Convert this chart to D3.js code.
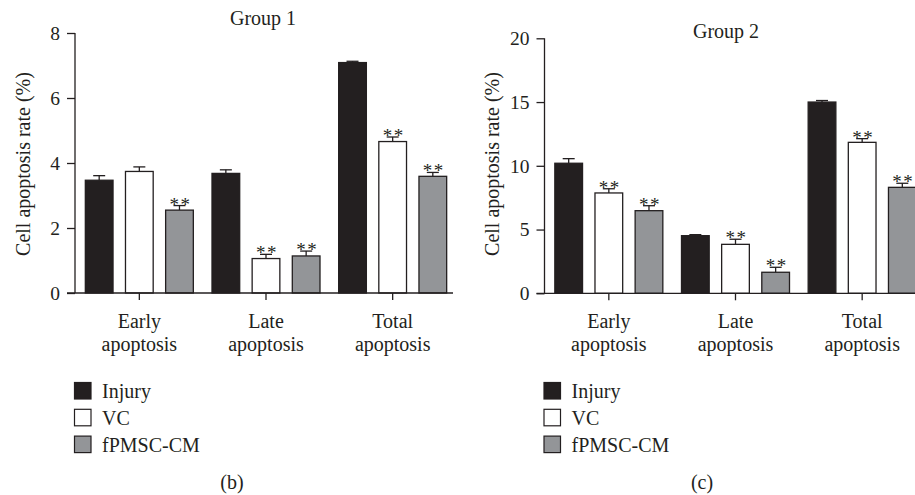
<!DOCTYPE html>
<html><head><meta charset="utf-8">
<script src="https://cdn.jsdelivr.net/npm/d3@7"></script>
<style>body{margin:0;background:#fff}svg text{font-family:"Liberation Serif","DejaVu Serif",serif;fill:#231f20}</style>
</head><body><svg id="c" width="915" height="495"></svg>
<script>
const categories = ["Early apoptosis", "Late apoptosis", "Total apoptosis"];
const seriesNames = ["Injury", "VC", "fPMSC-CM"];
const seriesColors = ["#231f20", "#ffffff", "#939598"];
// Group 1
const g1Injury = [3.47, 3.68, 7.09];
const g1VC = [3.74, 1.06, 4.66];
const g1CM = [2.55, 1.14, 3.59];
const g1InjuryErr = [0.14, 0.11, 0.04];
const g1VCErr = [0.14, 0.13, 0.14];
const g1CMErr = [0.14, 0.15, 0.12];
const g1Sig = [[false, false, false], [false, true, true], [true, true, true]]; // [series][category]
const g1Ticks = [0, 2, 4, 6, 8];
// Group 2
const g2Injury = [10.2, 4.52, 15.0];
const g2VC = [7.87, 3.84, 11.84];
const g2CM = [6.48, 1.65, 8.31];
const g2InjuryErr = [0.36, 0.08, 0.12];
const g2VCErr = [0.33, 0.4, 0.29];
const g2CMErr = [0.39, 0.39, 0.32];
const g2Sig = [[false, false, false], [true, true, true], [true, true, true]];
const g2Ticks = [0, 5, 10, 15, 20];

const svg = d3.select("#c");
const INK = "#231f20";

function panel(o) {
  const g = svg.append("g");
  const y = d3.scaleLinear().domain([0, o.max]).range([o.y0, o.yTop]);
  const x0 = d3.scaleBand().domain(categories).range([o.xAxis + 1, o.xAxis + 381]);
  const x1 = d3.scaleBand().domain(seriesNames).range([-54, 54]).paddingInner(0.31).paddingOuter(0);
  const vals = [o.inj, o.vc, o.cm];
  const errs = [o.injE, o.vcE, o.cmE];

  // y axis
  const ya = g.append("g").attr("transform", `translate(${o.xAxis},0)`)
    .call(d3.axisLeft(y).tickValues(o.ticks).tickSize(8).tickPadding(7));
  ya.select(".domain").remove();
  ya.selectAll("line").attr("stroke", INK).attr("stroke-width", 1.3);
  ya.selectAll("text").attr("font-size", 19.5).style("font-family", '"Liberation Serif",serif').attr("fill", INK);
  g.append("line").attr("x1", o.xAxis).attr("x2", o.xAxis).attr("y1", o.yTop).attr("y2", o.y0)
    .attr("stroke", INK).attr("stroke-width", 1.3);

  // bars
  seriesNames.forEach((s, si) => {
    categories.forEach((c, ci) => {
      const cx = x0(c) + x0.bandwidth() / 2;
      const bx = cx + x1(s);
      const bw = x1.bandwidth();
      const v = vals[si][ci], e = errs[si][ci];
      g.append("line").attr("x1", bx + bw / 2).attr("x2", bx + bw / 2).attr("y1", y(v)).attr("y2", y(v + e))
        .attr("stroke", INK).attr("stroke-width", 1.3);
      g.append("line").attr("x1", bx + bw / 2 - 6).attr("x2", bx + bw / 2 + 6).attr("y1", y(v + e)).attr("y2", y(v + e))
        .attr("stroke", INK).attr("stroke-width", 1.3);
      g.append("rect").attr("x", bx).attr("y", y(v)).attr("width", bw).attr("height", y(0) - y(v))
        .attr("fill", seriesColors[si]).attr("stroke", INK).attr("stroke-width", 1.3);
      if (o.sig[si][ci]) {
        g.append("text").attr("x", bx + bw / 2 + 1).attr("y", y(v + e) + 5).attr("text-anchor", "middle")
          .attr("font-size", 19).attr("letter-spacing", 1.5).text("**").attr("fill", "#555");
      }
    });
  });

  // x axis
  const xa = g.append("g").attr("transform", `translate(0,${o.y0})`)
    .call(d3.axisBottom(x0).tickSize(7).tickFormat(""));
  xa.select(".domain").remove();
  xa.selectAll("line").attr("stroke", INK).attr("stroke-width", 1.3);
  g.append("line").attr("x1", o.xAxis - 8).attr("x2", o.xAxis + 378).attr("y1", o.y0).attr("y2", o.y0)
    .attr("stroke", INK).attr("stroke-width", 1.3);
  categories.forEach(c => {
    const cx = x0(c) + x0.bandwidth() / 2;
    const parts = c.split(" ");
    g.append("text").attr("x", cx).attr("y", o.y0 + 34.5).attr("text-anchor", "middle").attr("font-size", 20).text(parts[0]);
    g.append("text").attr("x", cx).attr("y", o.y0 + 57.5).attr("text-anchor", "middle").attr("font-size", 20).text(parts[1]);
  });

  // title
  g.append("text").attr("x", o.titleX).attr("y", o.titleY).attr("text-anchor", "middle").attr("font-size", 20).text(o.title);
  // y label
  g.append("text").attr("transform", `translate(${o.yLabX},164) rotate(-90)`).attr("text-anchor", "middle")
    .attr("font-size", 20).text("Cell apoptosis rate (%)");

  // legend
  seriesNames.forEach((s, si) => {
    const ly = 382.5 + si * 26.8;
    g.append("rect").attr("x", o.xAxis - 0.5).attr("y", ly).attr("width", 16.5).attr("height", 16.5)
      .attr("fill", seriesColors[si]).attr("stroke", INK).attr("stroke-width", 1.2);
    g.append("text").attr("x", o.xAxis + 27).attr("y", ly + 15.5).attr("font-size", 20).text(s);
  });
  // panel letter
  g.append("text").attr("x", o.letterX).attr("y", 489).attr("text-anchor", "middle").attr("font-size", 20).text(o.letter);
}

panel({xAxis: 75, y0: 293, yTop: 33, max: 8, ticks: g1Ticks,
  inj: g1Injury, vc: g1VC, cm: g1CM, injE: g1InjuryErr, vcE: g1VCErr, cmE: g1CMErr, sig: g1Sig,
  title: "Group 1", titleX: 263, titleY: 24.5, yLabX: 29.5, letter: "(b)", letterX: 232});
panel({xAxis: 544.5, y0: 293.3, yTop: 38.3, max: 20, ticks: g2Ticks,
  inj: g2Injury, vc: g2VC, cm: g2CM, injE: g2InjuryErr, vcE: g2VCErr, cmE: g2CMErr, sig: g2Sig,
  title: "Group 2", titleX: 726, titleY: 38, yLabX: 499, letter: "(c)", letterX: 702});
</script></body></html>
